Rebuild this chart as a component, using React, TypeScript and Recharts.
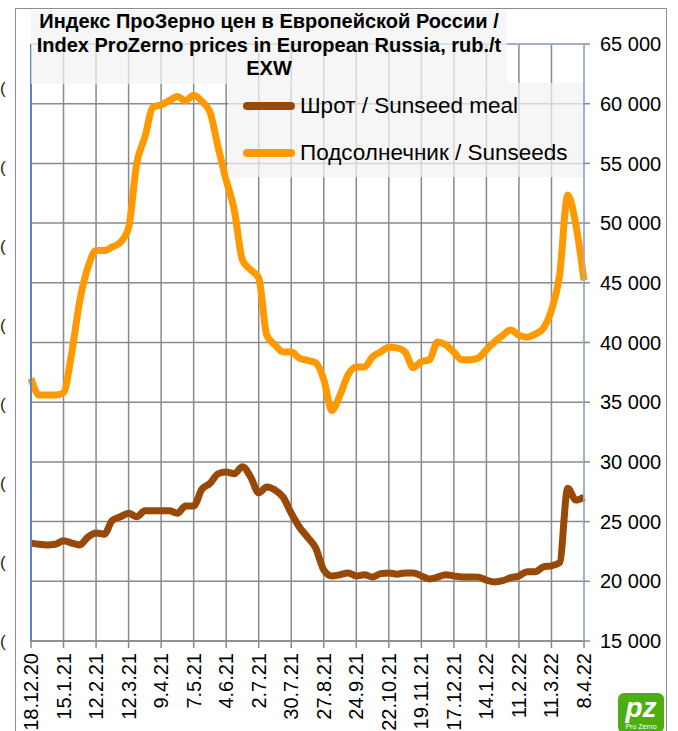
import { LineChart, Line, XAxis, YAxis, CartesianGrid, ReferenceLine } from 'recharts';

// Weekly ProZerno EXW prices, rub./t (18.12.2020 – 8.4.2022)
const tickLabels = [
  '18.12.20', '15.1.21', '12.2.21', '12.3.21', '9.4.21', '7.5.21', '4.6.21', '2.7.21', '30.7.21',
  '27.8.21', '24.9.21', '22.10.21', '19.11.21', '17.12.21', '14.1.22', '11.2.22', '11.3.22', '8.4.22',
];

const sunseeds = [
  37000, 35600, 35600, 35600, 35800, 39100, 43500, 46300, 47700, 47700, 48000, 48400, 49600, 55000,
  57200, 59700, 59900, 60250, 60600, 60250, 60700, 60200, 59300, 56400, 53600, 51100, 46900, 46100,
  45400, 40600, 39800, 39200, 39200, 38700, 38500, 38300, 36900, 34300, 35600, 37300, 37950, 37950,
  38800, 39200, 39600, 39550, 39200, 37900, 38400, 38550, 40050, 39800, 39200, 38550, 38550, 38700,
  39400, 40050, 40600, 41050, 40600, 40450, 40700, 41200, 42700, 45650, 52350, 49850, 45200,
];

const meal = [
  23200, 23100, 23050, 23100, 23400, 23200, 23050, 23700, 24050, 23950, 25100, 25400, 25700, 25400,
  25900, 25900, 25900, 25900, 25700, 26300, 26300, 27700, 28200, 29000, 29150, 29000, 29600, 28750,
  27400, 27900, 27650, 27050, 25700, 24550, 23700, 22800, 20950, 20450, 20550, 20700, 20450, 20550,
  20360, 20640, 20700, 20600, 20700, 20700, 20450, 20200, 20350, 20550, 20450, 20370, 20370, 20350,
  20100, 19950, 20050, 20300, 20450, 20800, 20800, 21200, 21300, 21550, 27800, 26800, 27050,
];

const rightTicks = [15000, 20000, 25000, 30000, 35000, 40000, 45000, 50000, 55000, 60000, 65000];
const leftTicks = [0, 1, 2, 3, 4, 5, 6, 7];

const MEAL = '#984807';
const SEEDS = '#FF9900';
const FONT = '"Liberation Sans", Arial, sans-serif';

const data = meal.map((m, i) => ({ week: i, meal: m, seeds: sunseeds[i] }));
const xTicks = tickLabels.map((_, k) => k * 4);

const fmt = (v: number) => `${Math.round(v / 1000)} 000`;

const XTick = ({ x, y, payload }: any) => (
  <g transform={`translate(${x},${y + 3})`}>
    <text transform="rotate(-90)" textAnchor="end" dy="0.35em" fontSize={20} fill="#000" fontFamily={FONT}>
      {tickLabels[payload.value / 4]}
    </text>
  </g>
);

const LeftTick = ({ y }: any) => (
  <text x={0} y={y} dy="0.35em" fontSize={17} fill="#222" fontFamily={FONT}>(</text>
);

export default function App() {
  return (
    <div style={{ position: 'absolute', left: 0, top: 0, width: 678, height: 731, overflow: 'hidden', background: '#fff', fontFamily: FONT }}>
      <div style={{ position: 'absolute', left: 15, top: 8, width: 650, height: 760, border: '1px solid #8c8c8c' }} />
      <LineChart width={678} height={731} data={data} margin={{ top: 44, right: 0, bottom: 0, left: 0 }}>
        <CartesianGrid yAxisId="right" stroke="#8a8a8a" strokeWidth={1.5} />
        <XAxis
          dataKey="week"
          type="number"
          domain={[0, 68]}
          ticks={xTicks}
          height={90}
          tick={<XTick />}
          tickSize={7}
          stroke="#8a8a8a"
          strokeWidth={1.5}
          interval={0}
        />
        <YAxis
          yAxisId="left"
          orientation="left"
          width={31}
          domain={[0, 7.56]}
          ticks={leftTicks}
          tickLine={false}
          tick={<LeftTick />}
          axisLine={{ stroke: '#5b86c5', strokeWidth: 2 }}
          allowDataOverflow
        />
        <YAxis
          yAxisId="right"
          orientation="right"
          width={94}
          domain={[15000, 65000]}
          ticks={rightTicks}
          tickFormatter={fmt}
          tickSize={6}
          tickMargin={10}
          tick={{ fontSize: 20, fill: '#000', fontFamily: FONT }}
          tickLine={{ stroke: '#8a8a8a', strokeWidth: 1.5 }}
          axisLine={{ stroke: '#9fb3d1', strokeWidth: 1.5 }}
          interval={0}
        />
        <ReferenceLine yAxisId="right" y={65000} stroke="#9fb3d1" strokeWidth={1.5} />
        <ReferenceLine yAxisId="right" x={68} stroke="#9fb3d1" strokeWidth={1.5} />
        <Line yAxisId="right" type="monotone" dataKey="seeds" stroke={SEEDS} strokeWidth={7} dot={false} activeDot={false} isAnimationActive={false} />
        <Line yAxisId="right" type="monotone" dataKey="meal" stroke={MEAL} strokeWidth={7} dot={false} activeDot={false} isAnimationActive={false} />
      </LineChart>

      {/* title box */}
      <div
        style={{
          position: 'absolute', left: 31, top: 10, width: 476, height: 74, background: 'rgba(242,242,242,0.72)',
          fontWeight: 'bold', fontSize: 20, lineHeight: '23.5px', textAlign: 'center', color: '#000', whiteSpace: 'nowrap',
        }}
      >
        Индекс ПроЗерно цен в Европейской России /<br />Index ProZerno prices in European Russia, rub./t<br />EXW
      </div>

      {/* legend box */}
      <div style={{ position: 'absolute', left: 228, top: 83, width: 355, height: 94, background: 'rgba(242,242,242,0.72)' }}>
        {[
          { name: 'Шрот / Sunseed meal', color: MEAL, top: 23 },
          { name: 'Подсолнечник / Sunseeds', color: SEEDS, top: 70 },
        ].map((item) => (
          <div key={item.name} style={{ position: 'absolute', left: 15, top: item.top - 14, height: 28, display: 'flex', alignItems: 'center' }}>
            <div style={{ width: 52, height: 8, borderRadius: 4, background: item.color }} />
            <span style={{ marginLeft: 5, fontSize: 22.5, color: '#000', whiteSpace: 'nowrap' }}>{item.name}</span>
          </div>
        ))}
      </div>

      {/* logo */}
      <div style={{ position: 'absolute', left: 618, top: 693, width: 46, height: 40, background: '#4caf0f', borderRadius: 6, color: '#fff', textAlign: 'center' }}>
        <div style={{ fontSize: 28, fontWeight: 'bold', lineHeight: '30px', fontStyle: 'italic' }}>pz</div>
        <div style={{ fontSize: 7, lineHeight: '8px' }}>Pro Zerno</div>
      </div>
    </div>
  );
}
